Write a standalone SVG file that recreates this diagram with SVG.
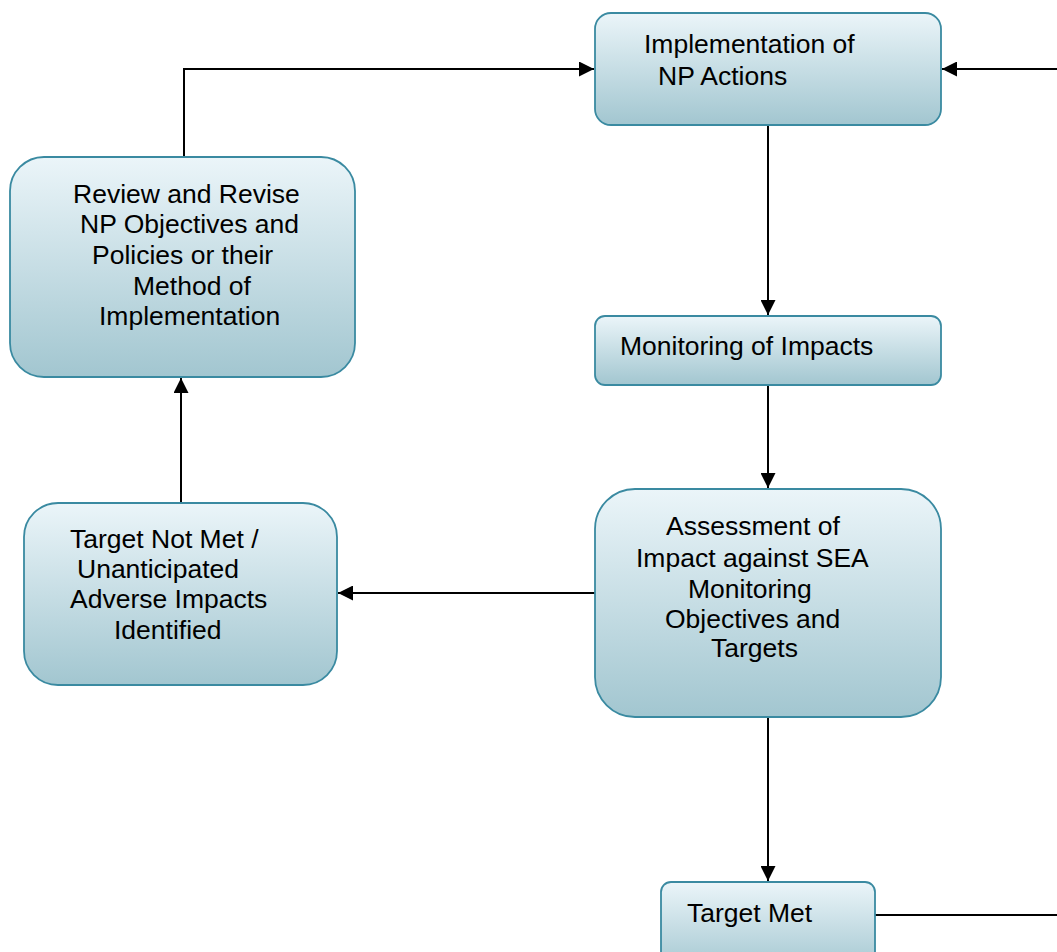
<svg xmlns="http://www.w3.org/2000/svg" width="1057" height="952" viewBox="0 0 1057 952">
<style>
.box{fill:url(#g);stroke:#3a8aa1;stroke-width:1.8}
.t{font-family:"Liberation Sans",Arial,sans-serif;font-size:26.5px;fill:#000}
.c{fill:none;stroke:#000;stroke-width:2}
</style>
<defs>
<linearGradient id="g" x1="0" y1="0" x2="0" y2="1">
<stop offset="0" stop-color="#ebf5f9"/>
<stop offset="1" stop-color="#a2c6d0"/>
</linearGradient>
<marker id="a" viewBox="0 0 10 10" refX="10" refY="5" markerWidth="15" markerHeight="15" markerUnits="userSpaceOnUse" orient="auto">
<path d="M0,0 L10,5 L0,10 z" fill="#000"/>
</marker>
</defs>
<g id="connectors">
<path class="c" d="M184,157 V69 H594" marker-end="url(#a)"/>
<path class="c" d="M1057,69 H942" marker-end="url(#a)"/>
<path class="c" d="M768,125 V315" marker-end="url(#a)"/>
<path class="c" d="M768,385 V488" marker-end="url(#a)"/>
<path class="c" d="M595,593 H338" marker-end="url(#a)"/>
<path class="c" d="M181,503 V378" marker-end="url(#a)"/>
<path class="c" d="M768,717 V881" marker-end="url(#a)"/>
<path class="c" d="M875,915 H1057"/>
</g>
<g id="implementation">
<rect class="box" x="595" y="13" width="346" height="112" rx="16"/>
<text class="t"><tspan x="644" y="53">Implementation of</tspan><tspan x="658" y="85">NP Actions</tspan></text>
</g>
<g id="review">
<rect class="box" x="10" y="157" width="345" height="220" rx="34"/>
<text class="t"><tspan x="73" y="203">Review and Revise</tspan><tspan x="80" y="233">NP Objectives and</tspan><tspan x="92" y="264">Policies or their</tspan><tspan x="133" y="295">Method of</tspan><tspan x="99" y="325">Implementation</tspan></text>
</g>
<g id="monitoring">
<rect class="box" x="595" y="316" width="346" height="69" rx="10"/>
<text class="t" x="620" y="355">Monitoring of Impacts</text>
</g>
<g id="assessment">
<rect class="box" x="595" y="489" width="346" height="228" rx="40"/>
<text class="t"><tspan x="666" y="535">Assessment of</tspan><tspan x="636" y="567">Impact against SEA</tspan><tspan x="688" y="598">Monitoring</tspan><tspan x="665" y="628">Objectives and</tspan><tspan x="711" y="657">Targets</tspan></text>
</g>
<g id="notmet">
<rect class="box" x="24" y="503" width="313" height="182" rx="34"/>
<text class="t"><tspan x="70" y="548">Target Not Met /</tspan><tspan x="77" y="578">Unanticipated</tspan><tspan x="70" y="608">Adverse Impacts</tspan><tspan x="114" y="639">Identified</tspan></text>
</g>
<g id="met">
<rect class="box" x="661" y="882" width="214" height="90" rx="10"/>
<text class="t" x="687" y="922">Target Met</text>
</g>
</svg>
